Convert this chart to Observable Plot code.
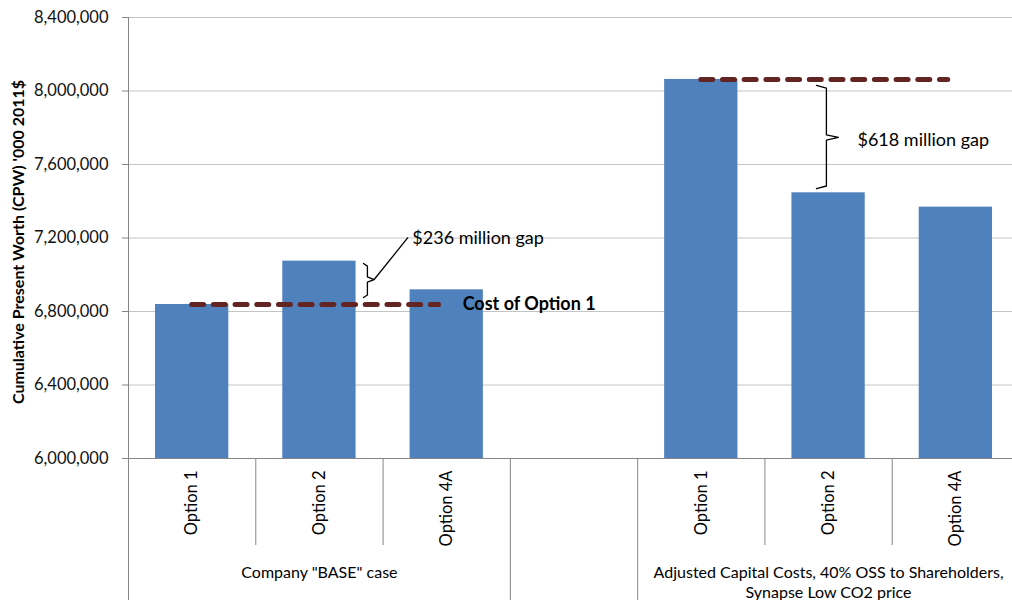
<!DOCTYPE html>
<html>
<head>
<meta charset="utf-8">
<script src="https://cdn.jsdelivr.net/npm/d3@7"></script>
<script src="https://cdn.jsdelivr.net/npm/@observablehq/plot@0.6"></script>
<style>
  html, body { margin: 0; padding: 0; background: #fff; overflow: hidden; }
</style>
</head>
<body>
<div id="chart"></div>
<script>
// ---- data ----
const options = ["Option 1", "Option 2", "Option 4A"];
const groups = ['Company "BASE" case', "Adjusted Capital Costs, 40% OSS to Shareholders,\nSynapse Low CO2 price"];
const baseValues = [6838000, 7074000, 6918000];
const adjustedValues = [8063000, 7446000, 7368000];
const yTicks = [6000000, 6400000, 6800000, 7200000, 7600000, 8000000, 8400000];
const yTitle = "Cumulative Present Worth (CPW) '000 2011$";
const refLabel = "Cost of Option 1";
const gapLabels = ["$236 million gap", "$618 million gap"];

// slots: base 0..2, empty 3, adjusted 4..6
const bars = [
  ...baseValues.map((v, i) => ({slot: i, option: options[i], value: v})),
  ...adjustedValues.map((v, i) => ({slot: i + 4, option: options[i], value: v}))
];
const groupData = [
  {center: 1.5, label: groups[0]},
  {center: 5.5, label: groups[1]}
];
const refLines = [
  {x1: 0.5, x2: 2.44, value: baseValues[0]},
  {x1: 4.5, x2: 6.44, value: adjustedValues[0]}
];

// bracket annotations (slot units / value units)
const brackets = [
  {id: 0, vx: 1.877, hook: 1.846, tip: 1.93, top: 7061000, bottom: 6876000, mid: 6974000},
  {id: 1, vx: 5.483, hook: 5.405, tip: 5.577, top: 8030000, bottom: 7469000, mid: 7747000}
];
const s = 14000;
const bracketPts = brackets.flatMap(b => [
  {id: b.id, x: b.hook, y: b.top},
  {id: b.id, x: b.vx, y: b.top - s},
  {id: b.id, x: b.vx, y: b.mid + s},
  {id: b.id, x: b.tip, y: b.mid},
  {id: b.id, x: b.vx, y: b.mid - s},
  {id: b.id, x: b.vx, y: b.bottom + s},
  {id: b.id, x: b.hook, y: b.bottom}
]);
const leader = [{x1: 1.93, y1: 6974000, x2: 2.196, y2: 7203000}];
const gapText = [
  {x: 2.23, y: 7197000, text: gapLabels[0]},
  {x: 5.727, y: 7731000, text: gapLabels[1]}
];

const axisGray = "#868686";
const yMin = yTicks[0], yMax = yTicks[yTicks.length - 1];

const chart = Plot.plot({
  width: 1012,
  height: 600,
  marginLeft: 128,
  marginRight: 0,
  marginTop: 17,
  marginBottom: 142,
  x: {domain: [0, 7], range: [128, 1019], axis: null},
  y: {domain: [yMin, yMax], axis: null},
  style: {fontFamily: "Lato, 'Open Sans', sans-serif", fontSize: "16px", color: "#000", background: "#fff"},
  marks: [
    Plot.gridY(yTicks.slice(1), {stroke: "#c4c4c4", strokeOpacity: 1}),
    Plot.rectY(bars, {x1: "slot", x2: d => d.slot + 1, y1: yMin, y2: "value", insetLeft: 27, insetRight: 27, fill: "#4f81bd"}),
    Plot.ruleY([yMin], {stroke: axisGray}),
    Plot.ruleX([0], {stroke: axisGray}),
    Plot.axisY({ticks: yTicks, tickFormat: d3.format(","), tickSize: 6, tickPadding: 14, stroke: axisGray, fill: "#111", fontSize: 16.5}),
    Plot.axisX({ticks: [1, 2, 5, 6], tickSize: 87, tickFormat: () => "", stroke: axisGray}),
    Plot.axisX({ticks: [0, 3, 4], tickSize: 142, tickFormat: () => "", stroke: axisGray}),
    Plot.text(bars, {x: d => d.slot + 0.5, text: "option", frameAnchor: "bottom", rotate: -90, textAnchor: "end", lineAnchor: "middle", dy: 12, fontSize: 16.5, fill: "#000"}),
    Plot.text(groupData, {x: "center", text: "label", frameAnchor: "bottom", lineAnchor: "top", dy: 105, lineHeight: 1.25, fontSize: 16, fill: "#000"}),
    Plot.ruleY(refLines, {y: "value", x1: "x1", x2: "x2", stroke: "#632523", strokeWidth: 5, strokeDasharray: "12,9.7", strokeLinecap: "round"}),
    Plot.text([refLabel], {x: 2.625, y: baseValues[0], text: d => d, textAnchor: "start", fontWeight: "bold", fontSize: 18, fill: "#000"}),
    Plot.line(bracketPts, {x: "x", y: "y", z: "id", stroke: "#000", strokeWidth: 1.3}),
    Plot.link(leader, {x1: "x1", y1: "y1", x2: "x2", y2: "y2", stroke: "#000", strokeWidth: 1.3}),
    Plot.text(gapText, {x: "x", y: "y", text: "text", textAnchor: "start", fontSize: 18, fill: "#000"}),
    Plot.text([yTitle], {frameAnchor: "left", text: d => d, rotate: -90, textAnchor: "middle", dx: -110, dy: 4, fontWeight: "bold", fontSize: 16, fill: "#000"})
  ]
});
document.getElementById("chart").append(chart);
</script>
</body>
</html>
